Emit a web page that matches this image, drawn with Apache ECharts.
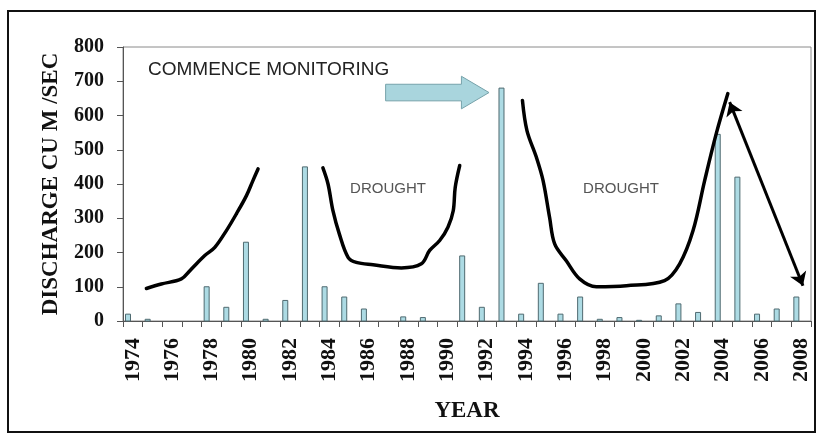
<!DOCTYPE html>
<html>
<head>
<meta charset="utf-8">
<script src="https://cdn.jsdelivr.net/npm/echarts@6/dist/echarts.min.js"></script>
<style>
  html, body { margin: 0; padding: 0; background: #fff; }
  #chart { width: 818px; height: 440px; }
</style>
</head>
<body>
<div id="chart"></div>
<script>
// Annual peak discharge, 1974-2008
const years = ['1974','1975','1976','1977','1978','1979','1980','1981','1982','1983',
  '1984','1985','1986','1987','1988','1989','1990','1991','1992','1993',
  '1994','1995','1996','1997','1998','1999','2000','2001','2002','2003',
  '2004','2005','2006','2007','2008'];
const discharge = [20, 5, 0, 0, 100, 40, 230, 5, 60, 450,
  100, 70, 35, 0, 12, 10, 0, 190, 40, 680,
  20, 110, 20, 70, 5, 10, 2, 15, 50, 25,
  545, 420, 20, 35, 70];
const yTicks = [0, 100, 200, 300, 400, 500, 600, 700, 800];

// Hand-drawn trend sketches, as [year, discharge] pairs
const trendRise = [[1974.69,95],[1975.45,108],[1976.47,123],[1976.9,147],[1977.66,191],
  [1978.17,215],[1978.76,264],[1979.27,313],[1979.78,366],[1980.11,410],[1980.37,444]];
const droughtOne = [[1983.67,447],[1983.93,400],[1984.18,322],[1984.5,255],
  [1984.95,186],[1985.37,171],[1986.22,164],[1987.66,155],[1988.68,167],[1989.1,206],
  [1989.61,235],[1990.03,274],[1990.3,322],[1990.4,390],[1990.63,454]];
const droughtTwo = [[1993.82,644],[1994.05,556],[1994.53,478],[1994.87,410],[1995.2,303],
  [1995.46,225],[1996.05,176],[1996.73,123],[1997.58,100],[1999.11,103],[2001.05,118],
  [2001.82,167],[2002.5,264],[2003.09,410],[2003.68,547],[2004.27,664]];
// Recession after the 2004 peak (double-headed arrow ends)
const recession = [[2004.36, 639], [2008.09, 103]];
// Start-of-monitoring block arrow: tail and tip
const monitorArrow = [[1986.86, 667, 1992.12, 667]];

const serif = "'Liberation Serif', 'Times New Roman', serif";
const sans = "'Liberation Sans', Arial, sans-serif";

const chart = echarts.init(document.getElementById('chart'), null, { renderer: 'canvas' });

function trendSeries(data) {
  return {
    type: 'line', xAxisIndex: 1, yAxisIndex: 0, data: data,
    smooth: 0.35, showSymbol: false, silent: true,
    lineStyle: { color: '#000', width: 3.5, cap: 'round', join: 'round' },
    z: 5
  };
}

chart.setOption({
  animation: false,
  backgroundColor: '#fff',
  grid: { left: 123, right: 7, top: 47, bottom: 119, show: true, borderColor: '#8a8a8a', borderWidth: 1 },
  xAxis: [{
    type: 'category', data: years, boundaryGap: true,
    name: 'YEAR', nameLocation: 'middle', nameGap: 79,
    nameTextStyle: { fontFamily: serif, fontWeight: 'bold', fontSize: 23, color: '#111' },
    axisLine: { lineStyle: { color: '#555', width: 1 } },
    axisTick: { show: true, interval: 0, length: 6, lineStyle: { color: '#555' } },
    axisLabel: { interval: 1, rotate: 90, margin: 17, fontFamily: serif, fontWeight: 'bold', fontSize: 22, color: '#111' },
    splitLine: { show: false }
  }, {
    type: 'value', min: 1973.5, max: 2008.5, show: false
  }],
  yAxis: [{
    type: 'value', min: 0, max: 800, interval: 100,
    name: 'DISCHARGE CU M /SEC', nameLocation: 'middle', nameGap: 60, nameRotate: 90,
    nameTextStyle: { fontFamily: serif, fontWeight: 'bold', fontSize: 23, color: '#111' },
    axisLine: { show: true, lineStyle: { color: '#555', width: 1 } },
    axisTick: { show: true, length: 6, lineStyle: { color: '#555' } },
    axisLabel: { margin: 19, fontFamily: serif, fontWeight: 'bold', fontSize: 20, color: '#111',
      formatter: v => (yTicks.indexOf(v) >= 0 ? String(v) : '') },
    splitLine: { show: false }
  }],
  series: [
    {
      // Discharge bars: narrow, sitting left of each category centre
      type: 'custom', xAxisIndex: 0, yAxisIndex: 0,
      data: years.map((y, i) => [i, discharge[i]]),
      encode: { x: 0, y: 1 },
      renderItem: function (params, api) {
        const v = api.value(1);
        if (!v) return null;
        const top = api.coord([api.value(0), v]);
        const base = api.coord([api.value(0), 0]);
        const band = api.size([1, 0])[0];
        const w = 5;
        const cx = top[0] - band * 0.245;
        return {
          type: 'rect',
          shape: { x: cx - w / 2, y: top[1], width: w, height: base[1] - top[1] },
          style: { fill: '#addbe4', stroke: '#4f6a70', lineWidth: 1 }
        };
      },
      z: 3
    },
    trendSeries(trendRise),
    trendSeries(droughtOne),
    trendSeries(droughtTwo),
    {
      type: 'line', xAxisIndex: 1, yAxisIndex: 0, data: [], silent: true,
      markLine: {
        silent: true, symbol: ['arrow', 'arrow'], symbolSize: [13, 13],
        label: { show: false },
        lineStyle: { color: '#000', width: 3, type: 'solid' },
        data: [[{ coord: recession[0] }, { coord: recession[1] }]]
      },
      z: 5
    },
    {
      // "Commence monitoring" block arrow
      type: 'custom', xAxisIndex: 1, yAxisIndex: 0,
      data: monitorArrow,
      encode: { x: [0, 2], y: [1, 3] },
      renderItem: function (params, api) {
        const tail = api.coord([api.value(0), api.value(1)]);
        const tip = api.coord([api.value(2), api.value(3)]);
        const y = tip[1], bh = 8.3, hh = 16.3, hl = 27.6;
        const neck = tip[0] - hl;
        return {
          type: 'polygon',
          shape: { points: [
            [tail[0], y - bh], [neck, y - bh], [neck, y - hh], [tip[0], y],
            [neck, y + hh], [neck, y + bh], [tail[0], y + bh]
          ] },
          style: { fill: '#a9d5dd', stroke: '#76a2aa', lineWidth: 1 }
        };
      },
      z: 4
    }
  ],
  graphic: [
    { type: 'rect', shape: { x: 8, y: 11, width: 807, height: 421 },
      style: { fill: 'none', stroke: '#111', lineWidth: 2 }, silent: true },
    { type: 'text', left: 148, top: 60,
      style: { text: 'COMMENCE MONITORING', font: '19px ' + sans, fill: '#222' } },
    { type: 'text', x: 388, y: 189,
      style: { text: 'DROUGHT', font: '15px ' + sans, fill: '#555', align: 'center', verticalAlign: 'middle' } },
    { type: 'text', x: 621, y: 189,
      style: { text: 'DROUGHT', font: '15px ' + sans, fill: '#555', align: 'center', verticalAlign: 'middle' } }
  ]
});
</script>
</body>
</html>
